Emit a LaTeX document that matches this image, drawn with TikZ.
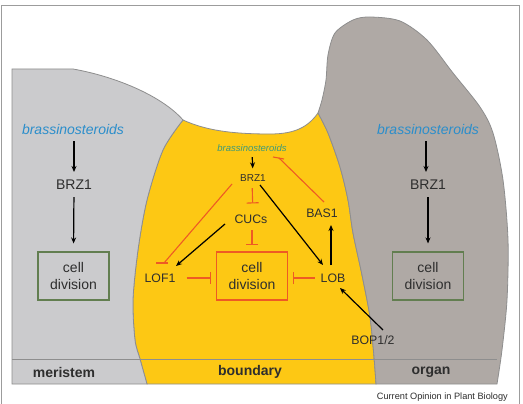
\documentclass[tikz,border=0pt]{standalone}
\usepackage{fontspec}
\setmainfont{Liberation Sans}
\usetikzlibrary{arrows.meta}
\definecolor{mer}{HTML}{CBCBCD}
\definecolor{org}{HTML}{AFA9A5}
\definecolor{yel}{HTML}{FDC814}
\definecolor{outl}{HTML}{8E8E8E}
\definecolor{bsblue}{HTML}{2B8ECB}
\definecolor{bsteal}{HTML}{3E9A78}
\definecolor{gbox}{HTML}{627E50}
\definecolor{inhred}{HTML}{EE5A24}
\definecolor{txt}{HTML}{2E2E2E}
\definecolor{frame}{HTML}{9C9C9C}
\tikzset{
  lbl/.style={inner sep=0pt, text=txt},
  big/.style={font=\fontsize{14}{17}\selectfont},
  gene/.style={font=\fontsize{12.3}{14}\selectfont},
  bsbig/.style={lbl, text=bsblue, font=\fontsize{14}{17}\selectfont\itshape},
  cellbox/.style={draw=gbox, line width=1.1pt, minimum width=71pt, minimum height=48pt, align=center, inner sep=0pt, text=txt, font=\fontsize{14}{17}\selectfont},
  arr/.style={draw=black, line width=1.2pt, -{Stealth[length=6pt,width=5pt]}},
  inh/.style={draw=inhred, line width=1.1pt, -{Bar[width=12pt,line width=1.1pt]}},
  inhline/.style={draw=inhred, line width=1.1pt},
  zone/.style={lbl, font=\fontsize{14}{17}\selectfont\bfseries},
}
\begin{document}
\begin{tikzpicture}[x=1pt,y=-1pt]
\useasboundingbox (0,0) rectangle (523,404);
\fill[white] (0,0) rectangle (523,404);
% frame
\draw[frame, line width=1pt] (1.5,404) -- (1.5,6) -- (519.5,6) -- (519.5,404);
% boundary (yellow)
\filldraw[fill=yel, draw=outl, line width=0.8pt] (183,120) .. controls (205,130) and (230,134) .. (270,134) .. controls (295,134) and (308,127) .. (318,113)
  -- plot[smooth] coordinates {(318,113) (328,133) (340,167) (348,200) (353,233) (362,275) (370,317) (374,357) (376,384)}
  -- (147,384)
  -- plot[smooth] coordinates {(147,384) (140,359) (135,340) (133,300) (138,250) (147,200) (163,150) (183,120)} -- cycle;
% meristem
\filldraw[fill=mer, draw=outl, line width=0.8pt] (12,384) -- (12,69) -- (73,69) .. controls (118,77) and (163,97) .. (183,120)
  -- plot[smooth] coordinates {(183,120) (163,150) (147,200) (138,250) (133,300) (135,340) (140,359) (147,384)} -- cycle;
% organ
\filldraw[fill=org, draw=outl, line width=0.8pt] plot[smooth] coordinates {(318,113) (322,100) (326,80) (328,55) (335,33) (353,20) (370,17) (400,21) (427,40) (453,73) (480,107) (493,133) (503,180) (508,240) (507,300) (502,350) (497,384)}
  -- (376,384)
  -- plot[smooth] coordinates {(376,384) (374,357) (370,317) (362,275) (353,233) (348,200) (340,167) (328,133) (318,113)} -- cycle;
% band line
\draw[outl, line width=0.8pt] (12,359) -- (497,359);

% left column
\node[bsbig] (bsL) at (73,129) {brassinosteroids};
\node[lbl, big] (brzL) at (74,185) {BRZ1};
\node[cellbox] (cdL) at (73.5,276) {cell\\division};
\draw[arr, shorten <=7pt, shorten >=8pt] (bsL.south -| brzL) -- (brzL.north);
\draw[arr, shorten <=7pt, shorten >=8pt] (brzL.south) -- (cdL.north);

% right column
\node[bsbig] (bsR) at (428,129) {brassinosteroids};
\node[lbl, big] (brzR) at (428,185) {BRZ1};
\node[cellbox] (cdR) at (428,276) {cell\\division};
\draw[arr, shorten <=7pt, shorten >=8pt] ([xshift=-2pt]bsR.south) -- ([xshift=-2pt]brzR.north);
\draw[arr, shorten <=7pt, shorten >=8pt] (brzR.south) -- (cdR.north);

% middle
\node[lbl, text=bsteal, font=\fontsize{9.5}{11}\selectfont\itshape] (bsM) at (252,148) {brassinosteroids};
\node[lbl, font=\fontsize{10}{12}\selectfont] (brzM) at (253,178) {BRZ1};
\node[lbl, gene] (cucs) at (251,219) {CUCs};
\node[cellbox, draw=inhred] (cdM) at (252,276) {cell\\division};
\node[lbl, gene] (lof1) at (160,278) {LOF1};
\node[lbl, gene] (lob) at (333,278) {LOB};
\node[lbl, gene] (bas1) at (322,213) {BAS1};
\node[lbl, gene] (bop) at (373,340) {BOP1/2};

\draw[arr, shorten <=5.5pt, shorten >=6pt] (bsM.south) -- (brzM.north);
\draw[inh, shorten <=6.5pt, shorten >=11pt] ([xshift=-1pt]brzM.south) -- (cucs.north -| brzM.south);
\draw[inh, shorten <=6.5pt, shorten >=6pt] ([xshift=1pt]cucs.south) -- ([xshift=1pt]cucs.south |- cdM.north);
\draw[inh, shorten <=11pt, shorten >=5pt] (lof1.east) -- (lof1.east -| cdM.west);
\draw[inh, shorten <=5.5pt, shorten >=5pt] (lob.west) -- (lob.west -| cdM.east);
% BRZ1 -| LOF1 (horizontal bar)
\draw[inhline] ([shift={(-21,6)}]brzM.center) -- ([shift={(4,-15)}]lof1.center);
\draw[inhline] ([shift={(-4,-15)}]lof1.center) -- ([shift={(8,-15)}]lof1.center);
% CUCs -> LOF1
\draw[arr] ([shift={(-26,5)}]cucs.center) -- ([shift={(16,-12)}]lof1.center);
% BRZ1 -> LOB
\draw[arr] ([shift={(7,7)}]brzM.center) -- ([shift={(-10,-13)}]lob.center);
% LOB -> BAS1
\draw[arr] ([shift={(-2,-13)}]lob.center) -- ([shift={(9,12)}]bas1.center);
% BAS1 -| brassinosteroids
\draw[inhline] ([shift={(2,-11)}]bas1.center) -- ([shift={(27,10)}]bsM.center);
\draw[inhline] ([shift={(21,9)}]bsM.center) -- ([shift={(32,11)}]bsM.center);
% BOP1/2 -> LOB
\draw[arr] ([shift={(10,-10)}]bop.center) -- ([shift={(7,10)}]lob.center);

% zone labels
\node[zone] (zm) at (64,372) {meristem};
\node[zone] (zb) at (250,372) {boundary};
\node[zone] (zo) at (431,372) {organ};
\node[lbl, anchor=east, font=\fontsize{9.2}{11}\selectfont] (cap) at (508,397) {Current Opinion in Plant Biology};
\end{tikzpicture}
\end{document}
